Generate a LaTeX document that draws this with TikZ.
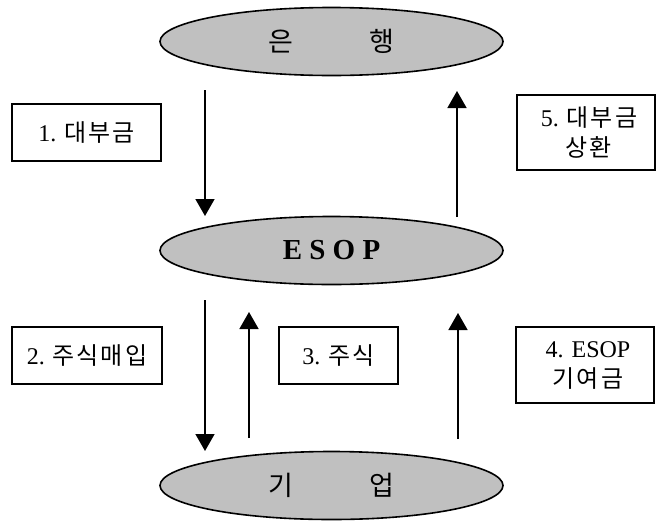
\documentclass[tikz,border=0pt]{standalone}
\usepackage{fontspec}
\setmainfont{Liberation Serif}
\newfontfamily\kr{Noto Sans CJK KR}
\newfontfamily\krbig{Noto Sans CJK KR}
\usetikzlibrary{shapes.geometric,arrows.meta}
\definecolor{ovalgray}{HTML}{C0C0C0}
\newcommand{\ks}{\hspace{2pt}}
\begin{document}
\begin{tikzpicture}[x=1pt,y=-1pt,
  oval/.style={ellipse, draw, line width=1.6pt, fill=ovalgray, minimum width=343pt, minimum height=68pt, inner sep=0pt},
  lbl/.style={draw, line width=1.2pt, align=center, inner sep=0pt, font=\fontsize{24}{30}\selectfont},
  arr/.style={line width=1.5pt, -{Triangle[width=19pt,length=17pt]}}
]
\useasboundingbox (0,0) rectangle (656,520);

\node[oval] (bank) at (331.5,41.5) {\krbig\fontsize{27}{27}\selectfont 은\hspace{77pt}행};
\node[oval] (esop) at (331.5,250.5) {\fontsize{29}{29}\selectfont\bfseries E S O P};
\node[oval] (firm) at (331.5,485.5) {\krbig\fontsize{27}{27}\selectfont 기\hspace{77pt}업};

\node[lbl, minimum width=149pt, minimum height=57pt] (b1) at (86.5,132.5) {1. {\kr 대\ks 부\ks 금}};
\node[lbl, minimum width=138pt, minimum height=75pt] (b5) at (586,132.5) {\hspace{6pt}5. {\kr 대\ks 부\ks 금}\\\hspace{6pt}{\kr 상\ks 환}};
\node[lbl, minimum width=150pt, minimum height=57pt] (b2) at (87,355.5) {2. {\kr 주\ks 식\ks 매\ks 입}};
\node[lbl, minimum width=119pt, minimum height=57pt] (b3) at (338.5,355.5) {3. {\kr 주\ks 식}};
\node[lbl, minimum width=138pt, minimum height=76pt] (b4) at (585,365) {\hspace{6pt}4. ESOP\\\hspace{6pt}{\kr 기\ks 여\ks 금}};

\coordinate (a1s) at (205,90);
\coordinate (a1e) at (205,216);
\coordinate (a5s) at (457,217);
\coordinate (a5e) at (457,91);
\coordinate (a2s) at (205,300);
\coordinate (a2e) at (205,451);
\coordinate (a3s) at (249,438);
\coordinate (a3e) at (249,312);
\coordinate (a4s) at (458,439);
\coordinate (a4e) at (458,313);

\draw[arr] (a1s) -- (a1e);
\draw[arr] (a5s) -- (a5e);
\draw[arr] (a2s) -- (a2e);
\draw[arr] (a3s) -- (a3e);
\draw[arr] (a4s) -- (a4e);
\end{tikzpicture}
\end{document}
